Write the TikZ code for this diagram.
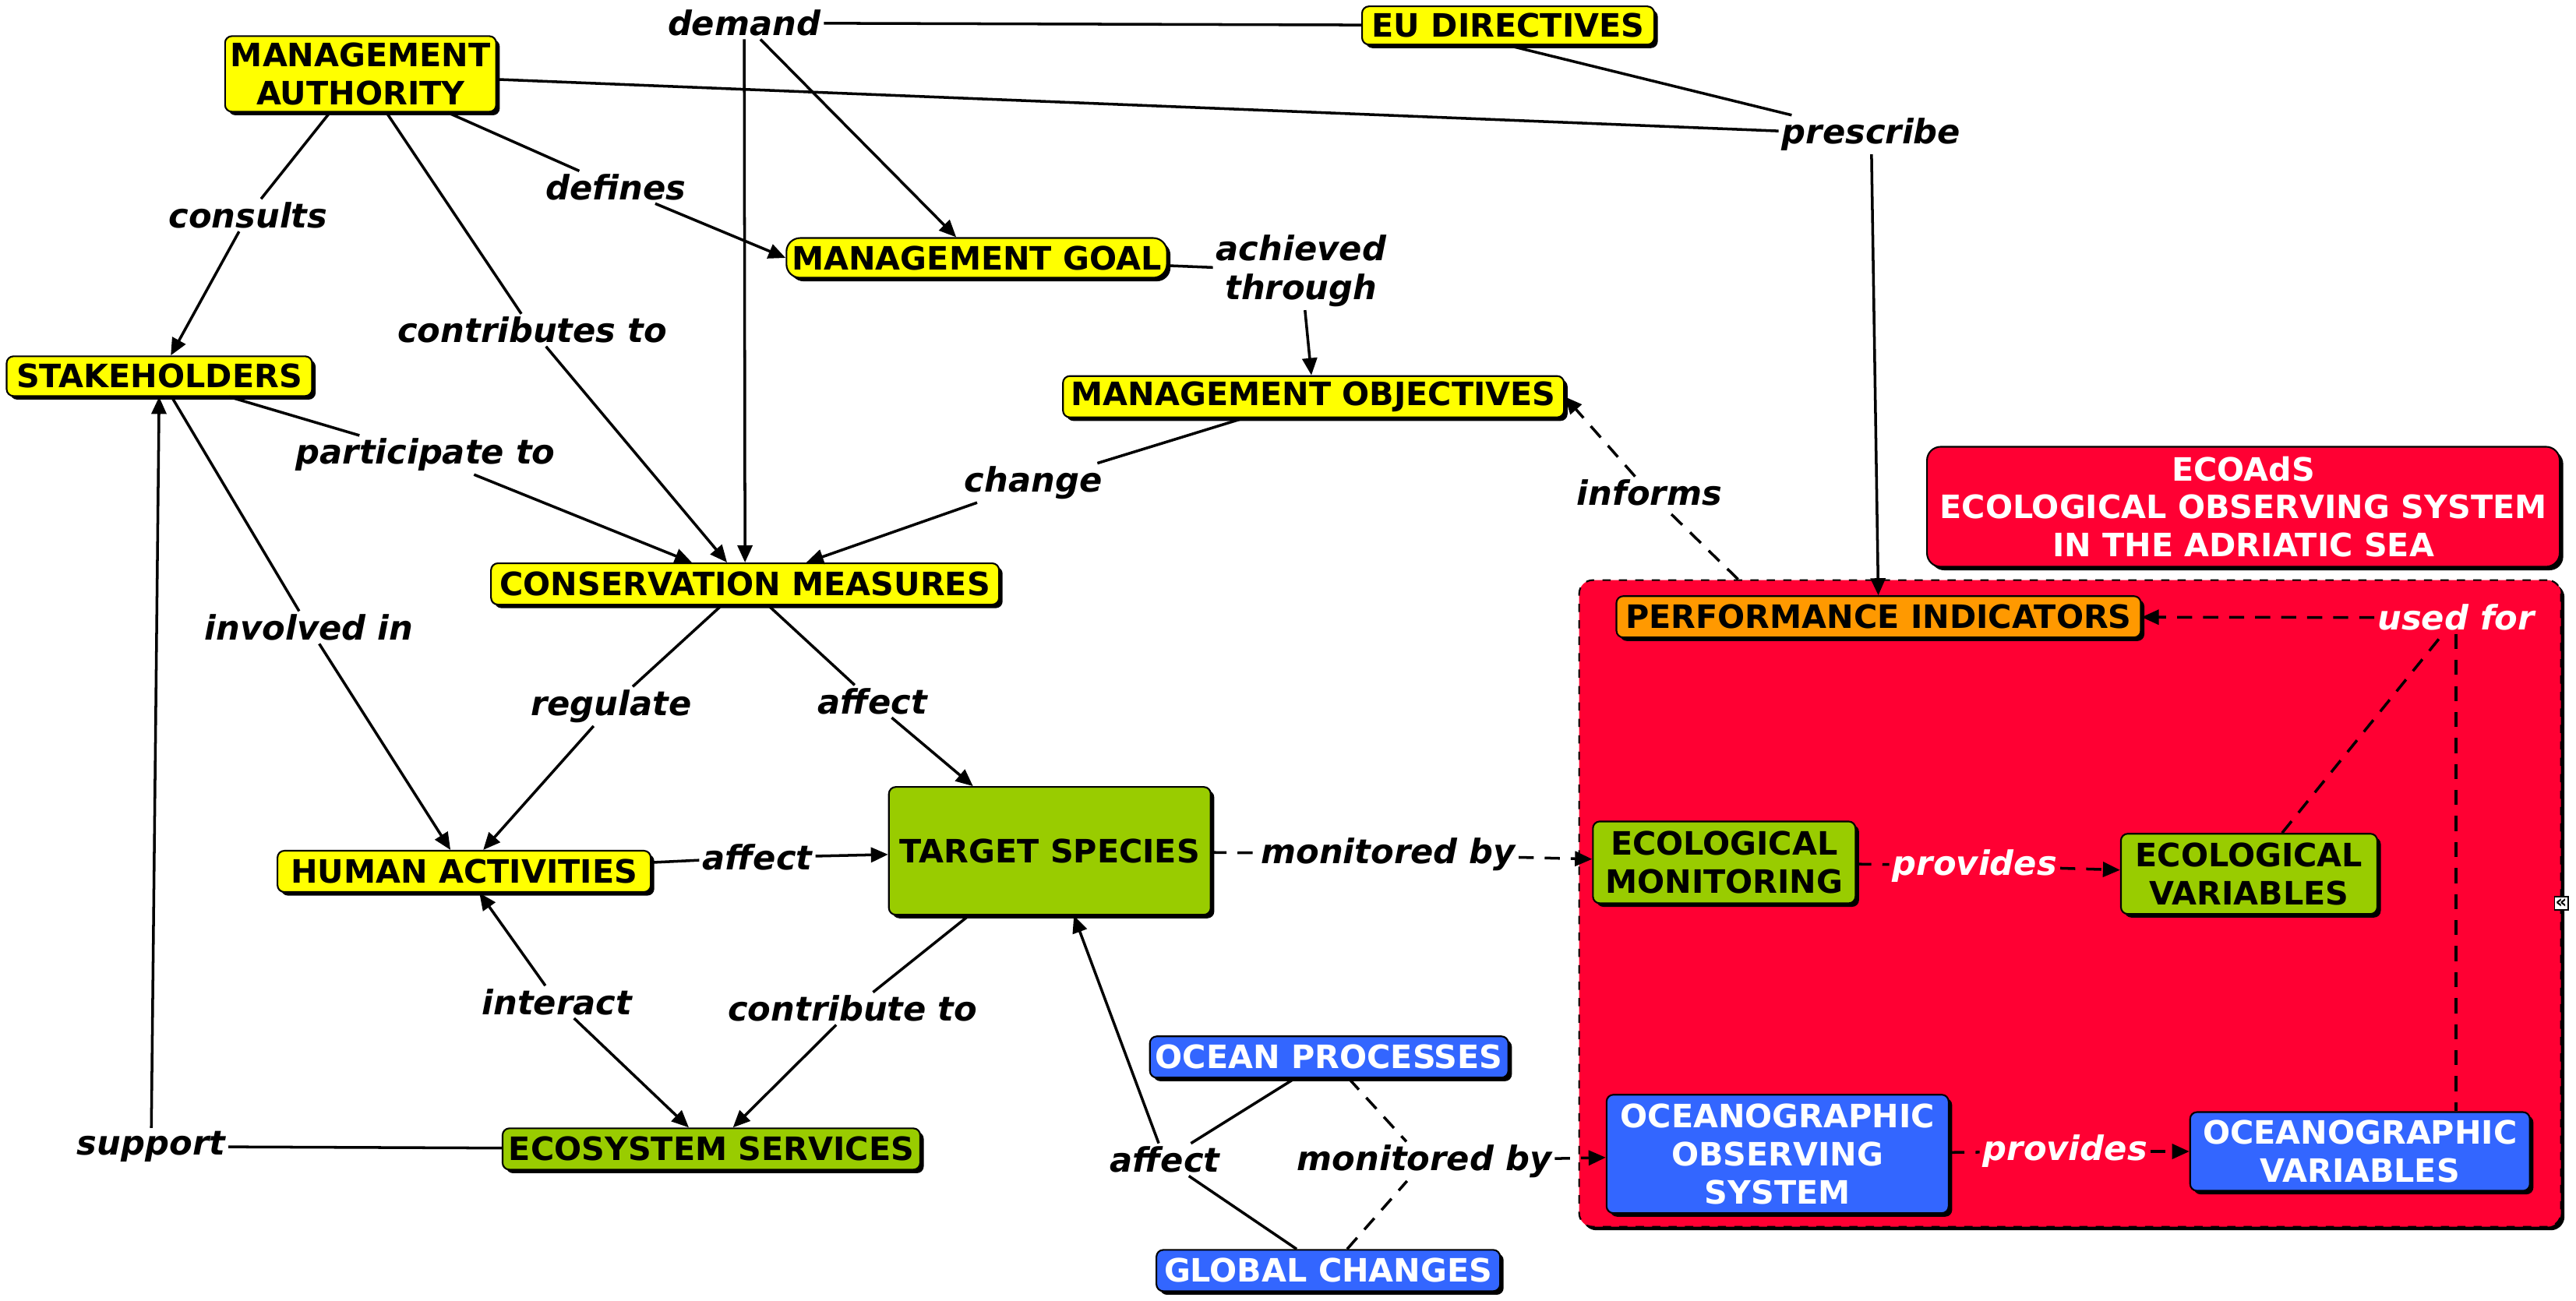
\documentclass[tikz,border=0pt]{standalone}
\usepackage{fontspec}
\setmainfont{DejaVu Sans}
\usetikzlibrary{arrows.meta,positioning,shadows}
\definecolor{lemon}{RGB}{255,255,0}
\definecolor{leaf}{RGB}{153,204,0}
\definecolor{ocean}{RGB}{51,102,255}
\definecolor{alarm}{RGB}{255,0,51}
\definecolor{amber}{RGB}{255,153,0}
\newcommand\mapfont{\fontsize{11.75}{13.9}\selectfont}
\newcommand\phrasefont{\fontsize{12.3}{14.2}\selectfont}
\tikzset{
  link/.style={line width=1pt,draw=black},
  flow/.style={link,-{Triangle[length=2.2mm,width=1.9mm]}},
  dashlink/.style={link,dash pattern=on 5.5pt off 4pt},
  dashflow/.style={flow,dash pattern=on 5.5pt off 4pt},
  box/.style={rounded corners=2.5pt,draw=black,line width=.6pt,fill=lemon,
              align=center,font=\mapfont\bfseries,inner sep=2pt,
              drop shadow={shadow xshift=1.3pt,shadow yshift=-1.3pt,fill=black,opacity=1}},
  leafbox/.style={box,fill=leaf},
  oceanbox/.style={box,fill=ocean,text=white},
  amberbox/.style={box,fill=amber},
  alarmbox/.style={box,fill=alarm,text=white},
  phrase/.style={font=\phrasefont\bfseries\itshape,inner sep=1pt,align=center},
  whitephrase/.style={phrase,text=white}
}

\begin{document}
\begin{tikzpicture}[x=0.21084mm,y=-0.21084mm]
  \useasboundingbox (0,0) rectangle (1568,792);
  % observing system container
  \node[alarmbox,dashed,rounded corners=5pt,minimum width=12.6cm,minimum height=8.3cm] (area) at (1260,550) {};
  \node[draw,fill=white,line width=.4pt,font=\fontsize{6.5}{6.5}\selectfont\bfseries,inner sep=.4pt,minimum width=.16cm,minimum height=.17cm] (fold) at (1559,550) {«};
  \node[alarmbox,rounded corners=5pt,minimum width=8.12cm,minimum height=1.54cm] (title) at (1365.5,308.5) {ECOAdS\\ECOLOGICAL OBSERVING SYSTEM\\IN THE ADRIATIC SEA};

  \node[box,minimum width=3.48cm,minimum height=.97cm] (auth) at (219.5,45) {MANAGEMENT\\AUTHORITY};
  \node[box,minimum width=3.75cm,minimum height=.49cm] (eu) at (918,15.5) {EU DIRECTIVES};
  \node[box,rounded corners=5pt,minimum width=4.87cm,minimum height=.51cm] (goal) at (594.5,157) {MANAGEMENT GOAL};
  \node[box,minimum width=3.92cm,minimum height=.51cm] (stk) at (97,229) {STAKEHOLDERS};
  \node[box,minimum width=6.43cm,minimum height=.53cm] (obj) at (799.5,241.5) {MANAGEMENT OBJECTIVES};
  \node[box,minimum width=6.52cm,minimum height=.53cm] (cm) at (453.5,355.5) {CONSERVATION MEASURES};
  \node[amberbox,minimum width=6.73cm,minimum height=.53cm] (pi) at (1143.5,375.5) {PERFORMANCE INDICATORS};
  \node[leafbox,minimum width=4.13cm,minimum height=1.64cm] (ts) at (639,518) {TARGET SPECIES};
  \node[box,minimum width=4.79cm,minimum height=.53cm] (ha) at (282.5,530.5) {HUMAN ACTIVITIES};
  \node[leafbox,minimum width=3.37cm,minimum height=1.05cm] (mon) at (1049.5,525) {ECOLOGICAL\\MONITORING};
  \node[leafbox,minimum width=3.29cm,minimum height=1.03cm] (ecovar) at (1369,532) {ECOLOGICAL\\VARIABLES};
  \node[oceanbox,minimum width=4.60cm,minimum height=.53cm] (proc) at (809,643.5) {OCEAN PROCESSES};
  \node[leafbox,minimum width=5.36cm,minimum height=.53cm] (ess) at (433,699.5) {ECOSYSTEM SERVICES};
  \node[oceanbox,minimum width=4.39cm,minimum height=1.52cm] (oos) at (1082,702.5) {OCEANOGRAPHIC\\OBSERVING\\SYSTEM};
  \node[oceanbox,minimum width=4.36cm,minimum height=1.01cm] (oceanvar) at (1436.5,701) {OCEANOGRAPHIC\\VARIABLES};
  \node[oceanbox,minimum width=4.41cm,minimum height=.53cm] (glob) at (808.5,773.5) {GLOBAL CHANGES};

  \node[phrase] (demand) at (453,14) {demand};
  \node[phrase] (prescribe) at (1139,82) {prescribe};
  \node[phrase] (defines) at (375,114) {defines};
  \node[phrase] (consults) at (151,131) {consults};
  \node[phrase] (contrib) at (324,201) {contributes to};
  \node[phrase] (achieved) at (792,165) {achieved\\through};
  \node[phrase] (participate) at (259,277) {participate to};
  \node[phrase] (change) at (629,294) {change};
  \node[phrase] (informs) at (1004,300) {informs};
  \node[phrase] (involved) at (188,382) {involved in};
  \node[phrase] (regulate) at (372,430) {regulate};
  \node[phrase] (affectA) at (531,427) {affect};
  \node[phrase] (affectB) at (461,522) {affect};
  \node[phrase] (monA) at (845,520) {monitored by};
  \node[whitephrase] (provA) at (1202,527) {provides};
  \node[whitephrase] (usedfor) at (1495,376) {used for};
  \node[phrase] (interact) at (339,610) {interact};
  \node[phrase] (contribB) at (519,614) {contribute to};
  \node[phrase] (support) at (92,698) {support};
  \node[phrase] (affectC) at (709,706) {affect};
  \node[phrase] (monB) at (867,707) {monitored by};
  \node[whitephrase] (provB) at (1257,701) {provides};

  \draw[link] (eu) -- (demand);
  \draw[flow] (demand) -- (goal);
  \draw[flow] (demand) -- (cm);
  \draw[link] (auth) -- (prescribe);
  \draw[link] (eu.south) -- (prescribe);
  \draw[flow] (prescribe) -- (pi);
  \draw[link] (auth) -- (consults);
  \draw[flow] (consults) -- (stk);
  \draw[link] (auth) -- (contrib);
  \draw[flow] (contrib) -- (cm);
  \draw[link] (auth) -- (defines);
  \draw[flow] (defines) -- (goal.west);
  \draw[link] (goal) -- (achieved);
  \draw[flow] (achieved) -- (obj);
  \draw[link] (obj) -- (change);
  \draw[flow] (change) -- (cm);
  \draw[link] (stk) -- (participate);
  \draw[flow] (participate) -- (cm);
  \draw[link] (stk) -- (involved);
  \draw[flow] (involved) -- (ha);
  \draw[link] (cm) -- (regulate);
  \draw[flow] (regulate) -- (ha);
  \draw[link] (cm) -- (affectA);
  \draw[flow] (affectA) -- (ts);
  \draw[link] (ha) -- (affectB);
  \draw[flow] (affectB) -- (ts);
  \draw[dashlink] (ts) -- (monA);
  \draw[dashflow] (monA) -- (mon);
  \draw[link] (ts) -- (contribB);
  \draw[flow] (contribB) -- (ess);
  \draw[flow] (interact) -- (ha);
  \draw[flow] (interact) -- (ess);
  \draw[link] (ess) -- (support);
  \draw[flow] (support) -- (stk);
  \draw[link] (proc) -- (affectC);
  \draw[link] (glob) -- (affectC);
  \draw[flow] (affectC) -- (ts);
  \draw[dashlink] (proc) -- (monB);
  \draw[dashlink] (glob) -- (monB);
  \draw[dashflow] (monB) -- (oos);
  \draw[dashlink] (area) -- (informs);
  \draw[dashflow] (informs) -- (obj.east);
  \draw[dashlink] (mon) -- (provA);
  \draw[dashflow] (provA) -- (ecovar);
  \draw[dashlink] (ecovar) -- (usedfor);
  \draw[dashlink] (usedfor) -- (usedfor |- oceanvar.north);
  \draw[dashflow] (usedfor) -- (pi);
  \draw[dashlink] (oos) -- (provB);
  \draw[dashflow] (provB) -- (oceanvar);
\end{tikzpicture}
\end{document}
